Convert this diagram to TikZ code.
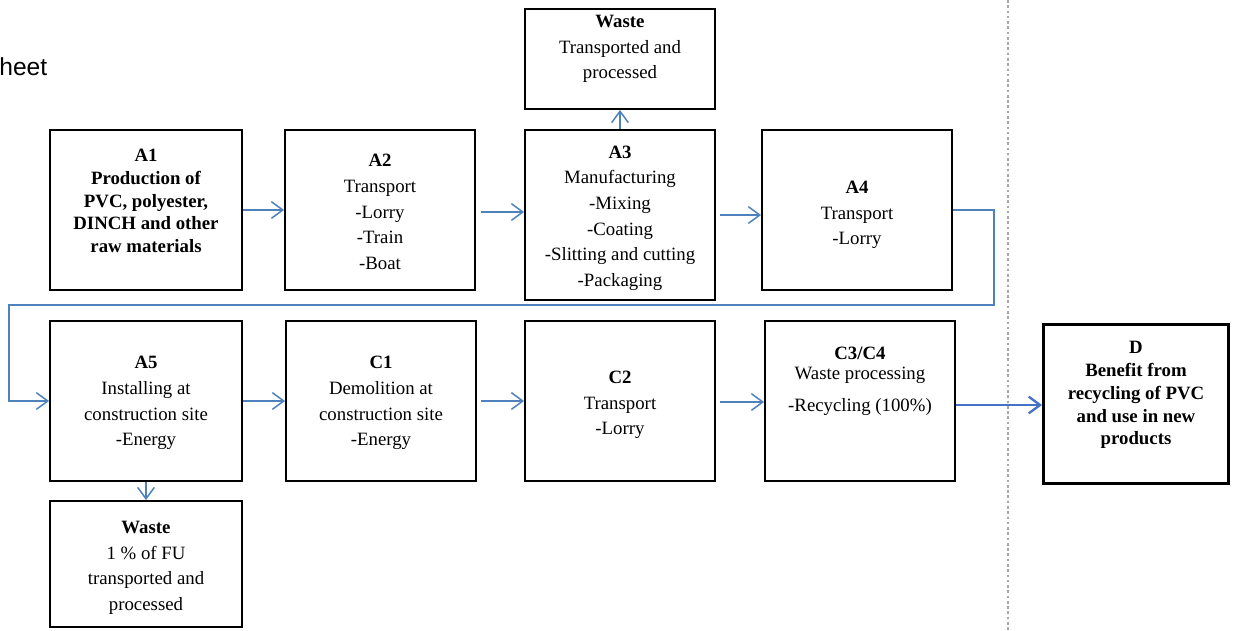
\documentclass[tikz,border=0pt]{standalone}
\usepackage{fontspec}
\setmainfont{Liberation Serif}
\newfontfamily\headfont{Liberation Sans}
\usetikzlibrary{arrows.meta,positioning,calc}
\definecolor{flowblue}{RGB}{79,129,189}
\definecolor{benefitblue}{RGB}{68,114,196}
\tikzset{
  stage/.style={draw,line width=1.1pt,minimum width=3.8cm,minimum height=3.2cm,inner sep=0pt},
  stagetext/.style={align=center,inner sep=0pt,font=\fontsize{10.7}{14.6}\selectfont},
  boldtext/.style={align=center,inner sep=0pt,font=\fontsize{10.7}{13}\selectfont\bfseries},
  flow/.style={arrows=-{Straight Barb[length=6.5pt,width=9.5pt]},color=flowblue,line width=0.85pt}
}

\begin{document}
\begin{tikzpicture}[x=0.02cm,y=-0.02cm]
  \useasboundingbox (0,0) rectangle (1234,630);
  \node[anchor=base west,inner sep=0pt,font=\headfont\fontsize{14}{16}\selectfont] (title) at (-1,75) {heet};
  \draw[gray!70,line width=0.6pt,dash pattern=on 1.5pt off 1.5pt] (1008,0) -- (1008,630);

  % upper row
  \node[stage,minimum width=3.84cm] (a1) at (146,210) {};
  \node[boldtext] (a1txt) at (146,201) {A1\\Production of\\PVC, polyester,\\DINCH and other\\raw materials};
  \node[stage] (a2) at (380,210) {};
  \node[stagetext] (a2txt) at (380,212) {\textbf{A2}\\Transport\\-Lorry\\-Train\\-Boat};
  \node[stage,minimum height=3.4cm] (a3) at (620,215) {};
  \node[stagetext] (a3txt) at (620,218) {\textbf{A3}\\Manufacturing\\-Mixing\\-Coating\\-Slitting and cutting\\-Packaging};
  \node[stage] (a4) at (857,210) {};
  \node[stagetext] (a4txt) at (857,215) {\textbf{A4}\\Transport\\-Lorry};
  \node[stage,minimum height=2cm] (wastea) at (620,59) {};
  \node[stagetext] (wasteatxt) at (620,49) {\textbf{Waste}\\Transported and\\processed};

  % lower row
  \node[stage,minimum width=3.84cm] (a5) at (146,401) {};
  \node[stagetext] (a5txt) at (146,403) {\textbf{A5}\\Installing at\\construction site\\-Energy};
  \node[stage] (c1) at (381,401) {};
  \node[stagetext] (c1txt) at (381,403) {\textbf{C1}\\Demolition at\\construction site\\-Energy};
  \node[stage] (c2) at (620,401) {};
  \node[stagetext] (c2txt) at (620,405) {\textbf{C2}\\Transport\\-Lorry};
  \node[stage] (c3) at (860,401) {};
  \node[stagetext] (c3txt) at (860,381) {\textbf{C3/C4}\\[-3pt]Waste processing\\[3.5pt]-Recycling (100\%)};
  \node[stage,minimum width=3.84cm,minimum height=2.52cm] (wasteb) at (146,564) {};
  \node[stagetext] (wastebtxt) at (146,568) {\textbf{Waste}\\1 \% of FU\\transported and\\processed};
  \node[stage,line width=1.7pt,minimum width=3.7cm,minimum height=3.18cm] (d) at (1136,404) {};
  \node[boldtext] (dtxt) at (1136,395) {D\\Benefit from\\recycling of PVC\\and use in new\\products};

  \draw[flow] (a1.east) -- (a2.west);
  \draw[flow] ($(a2.east)+(5,2)$) -- ($(a2.east -| a3.west)+(0,2)$);
  \draw[flow] ($(a3.east)+(4,0)$) -- (a3.east -| a4.west);
  \draw[flow] (a3.north) -- (wastea.south);
  \draw[flow] (a4.east) -- ++(41,0) -- ++(0,95) -| ($(a5.west)+(-40,0)$) -- (a5.west);
  \draw[flow] (a5.east) -- (c1.west);
  \draw[flow] ($(c1.east)+(4,0)$) -- (c2.west);
  \draw[flow] ($(c2.east)+(4,1)$) -- ($(c3.west)+(0,1)$);
  \draw[flow] (a5.south) -- (wasteb.north);
  \draw[flow,color=benefitblue,line width=1.3pt] ($(c3.east)+(0,4)$) -- ($(c3.east -| d.west)+(0,4)$);
\end{tikzpicture}
\end{document}
